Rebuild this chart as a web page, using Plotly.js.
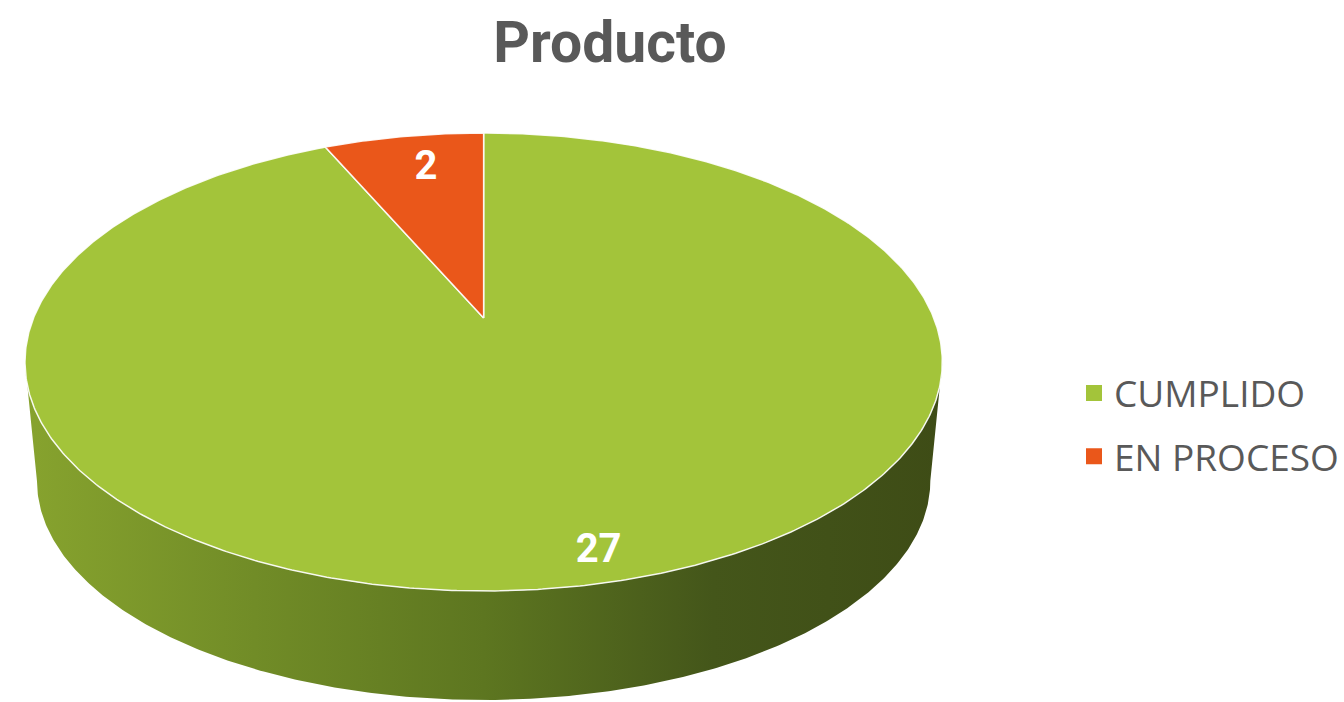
<!DOCTYPE html>
<html><head><meta charset="utf-8">
<script src="https://cdn.plot.ly/plotly-3.0.1.min.js"></script>
<style>html,body{margin:0;padding:0;background:#fff}#chart{width:1344px;height:702px}</style>
</head><body><div id="chart"></div>
<script>
// ---- data ----
const categories = ['CUMPLIDO', 'EN PROCESO'];
const values = [27, 2];
const chartTitle = 'Producto';

// ---- style ----
const sliceColors = ['#A3C43A', '#EA571A'];
const sideScales = [
  [[0, '#87A32E'], [0.25, '#718C27'], [0.5, '#5D7620'], [0.75, '#44561A'], [1, '#3E4C16']],
  [[0, '#C84A15'], [0.5, '#9A3910'], [1, '#6E290B']]
];
const labelFrac = [0.88, 0.82];
const labelShiftX = [12, 8];

// ---- geometry (pixel space; axes map 1:1 to pixels) ----
const W = 1344, H = 702;
const topE = {cx: 484, cy: 362, rx: 459, ry: 229};
const apex = {x: 484, y: 318};
const botE = {cx: 484, cy: 481, rx: 447, ry: 219};
const pxn = (apex.x - topE.cx) / topE.rx, pyn = (apex.y - topE.cy) / topE.ry;

function boundary(deg) {
  const th = deg * Math.PI / 180;
  const dx = Math.sin(th), dy = -Math.cos(th);
  const pd = pxn * dx + pyn * dy, pp = pxn * pxn + pyn * pyn;
  const t = -pd + Math.sqrt(pd * pd - pp + 1);
  const u = pxn + t * dx, v = pyn + t * dy;
  return {x: topE.cx + u * topE.rx, y: topE.cy + v * topE.ry};
}
function trueAngleOfParam(phiDeg) {
  const p = phiDeg * Math.PI / 180;
  const u = Math.sin(p), v = -Math.cos(p);
  let a = Math.atan2(u - pxn, -(v - pyn)) * 180 / Math.PI;
  if (a < 0) a += 360;
  return a;
}

const total = values.reduce((a, b) => a + b, 0);
const starts = [], ends = [];
let acc = 0;
values.forEach(v => { starts.push(acc / total * 360); acc += v; ends.push(acc / total * 360); });

const traces = [];
// side walls
values.forEach((v, i) => {
  const phis = [];
  for (let phi = 90; phi <= 270.0001; phi += 0.5) {
    const a = trueAngleOfParam(phi);
    if (a >= starts[i] && a <= ends[i]) phis.push(phi);
  }
  if (!phis.length) return;
  const xs = [], ys = [];
  phis.forEach(phi => { const p = phi * Math.PI / 180; xs.push(topE.cx + topE.rx * Math.sin(p)); ys.push(topE.cy - topE.ry * Math.cos(p)); });
  phis.slice().reverse().forEach(phi => { const p = phi * Math.PI / 180; xs.push(botE.cx + botE.rx * Math.sin(p)); ys.push(botE.cy - botE.ry * Math.cos(p)); });
  traces.push({
    type: 'scatter', mode: 'lines', x: xs, y: ys, fill: 'toself',
    fillgradient: {type: 'horizontal', colorscale: sideScales[i]},
    line: {width: 0}, hoverinfo: 'skip', showlegend: false
  });
});
// top slices
const labX = [], labY = [];
values.forEach((v, i) => {
  const xs = [apex.x], ys = [apex.y];
  const n = Math.max(2, Math.ceil((ends[i] - starts[i]) / 0.5));
  for (let k = 0; k <= n; k++) {
    const b = boundary(starts[i] + (ends[i] - starts[i]) * k / n);
    xs.push(b.x); ys.push(b.y);
  }
  xs.push(apex.x); ys.push(apex.y);
  traces.push({
    type: 'scatter', mode: 'lines', x: xs, y: ys, fill: 'toself',
    fillcolor: sliceColors[i], line: {color: 'rgba(255,255,255,0.9)', width: 1.5},
    name: categories[i], hoverinfo: 'name', showlegend: false
  });
  const mid = boundary((starts[i] + ends[i]) / 2);
  labX.push(apex.x + labelFrac[i] * (mid.x - apex.x) + labelShiftX[i]);
  labY.push(apex.y + labelFrac[i] * (mid.y - apex.y));
});
// data labels
traces.push({
  type: 'scatter', mode: 'text', x: labX, y: labY, text: values.map(String),
  textfont: {family: 'Roboto', size: 40, color: '#FFFFFF', weight: 'bold'},
  textposition: 'middle center', hoverinfo: 'skip', showlegend: false
});
// legend entries
categories.forEach((c, i) => {
  traces.push({
    type: 'scatter', mode: 'markers', x: [null], y: [null], name: c, legendgroup: c,
    marker: {symbol: 'square', size: 16, color: sliceColors[i]}, showlegend: true
  });
});

const layout = {
  width: W, height: H, margin: {l: 0, r: 0, t: 0, b: 0},
  paper_bgcolor: '#FFFFFF', plot_bgcolor: '#FFFFFF',
  xaxis: {range: [0, W], visible: false, fixedrange: true},
  yaxis: {range: [H, 0], visible: false, fixedrange: true},
  showlegend: true,
  legend: {x: 1075 / W, xanchor: 'left', y: 1 - 425 / H, yanchor: 'middle',
    font: {family: 'Open Sans', size: 37, color: '#595959'}, tracegroupgap: 12,
    bgcolor: 'rgba(0,0,0,0)', itemclick: false, itemdoubleclick: false},
  title: {text: chartTitle, x: 610 / W, xanchor: 'center', y: 1 - 42 / H, yanchor: 'middle',
    font: {family: 'Roboto', size: 57, color: '#595959', weight: 'bold'}}
};
Plotly.newPlot('chart', traces, layout, {displayModeBar: false});
</script></body></html>
